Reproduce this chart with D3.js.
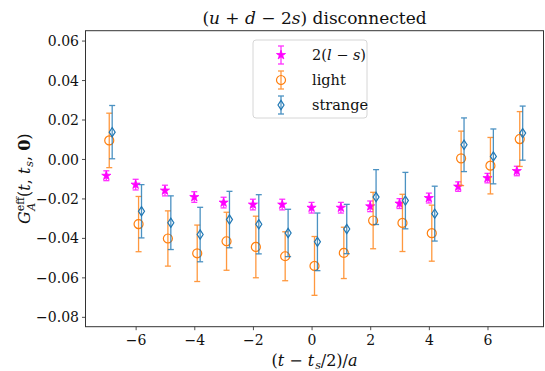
<!DOCTYPE html>
<html>
<head>
<meta charset="utf-8">
<script src="https://cdn.jsdelivr.net/npm/d3@7"></script>
<style>
  body { margin: 0; background: #fff; }
</style>
</head>
<body>
<div id="chart"></div>
<script>
// time slices (t - ts/2)/a
const tVals = [-7, -6, -5, -4, -3, -2, -1, 0, 1, 2, 3, 4, 5, 6, 7];

// 2(l - s)
const diffVal = [-0.0085, -0.013, -0.016, -0.0193, -0.0221, -0.0231, -0.0231, -0.0247, -0.0247, -0.024, -0.0226, -0.0198, -0.014, -0.0097, -0.0061];
const diffErr = [0.0025, 0.0027, 0.0027, 0.0027, 0.0027, 0.0027, 0.0027, 0.0027, 0.0027, 0.0027, 0.0025, 0.0025, 0.0024, 0.0024, 0.0024];

// light
const lightVal = [0.0094, -0.033, -0.0403, -0.0478, -0.0417, -0.0446, -0.0493, -0.0542, -0.0476, -0.0312, -0.0324, -0.0376, 0.0003, -0.0034, 0.0101];
const lightErr = [0.0138, 0.014, 0.014, 0.0143, 0.0147, 0.0156, 0.0124, 0.0149, 0.013, 0.0143, 0.0145, 0.0142, 0.0138, 0.0143, 0.0139];

// strange
const strangeVal = [0.0136, -0.0265, -0.0323, -0.0383, -0.0307, -0.0331, -0.0375, -0.042, -0.0355, -0.0193, -0.0211, -0.0277, 0.0072, 0.0013, 0.0131];
const strangeErr = [0.0135, 0.0135, 0.0136, 0.0138, 0.0143, 0.015, 0.012, 0.0146, 0.0125, 0.0139, 0.0143, 0.0139, 0.0136, 0.0139, 0.0137];

const xTicks = [-6, -4, -2, 0, 2, 4, 6];
const yTicks = [-0.08, -0.06, -0.04, -0.02, 0.00, 0.02, 0.04, 0.06];

const series = [
    {name: "diff", vals: diffVal, errs: diffErr, shift: 0.0, color: "#ff00ff", marker: "star"},
    {name: "light", vals: lightVal, errs: lightErr, shift: 0.1, color: "#ff7f0e", marker: "circle"},
    {name: "strange", vals: strangeVal, errs: strangeErr, shift: 0.2, color: "#1f77b4", marker: "diamond"}
];

const FONT = "'DejaVu Serif', serif";
const W = 545, H = 371;
const margin = {top: 30.7, right: 1.5, bottom: 44.3, left: 85.5};

const svg = d3.select("#chart").append("svg")
    .attr("width", W)
    .attr("height", H);

const x = d3.scaleLinear()
    .domain([-7.71, 7.91])
    .range([margin.left, W - margin.right]);

const y = d3.scaleLinear()
    .domain([-0.085, 0.065])
    .range([H - margin.bottom, margin.top]);

const fmtMinus = s => s.replace("-", "\u2212");

// axes
const xAxis = d3.axisBottom(x).tickValues(xTicks).tickSize(3.5).tickPadding(3)
    .tickFormat(d => fmtMinus(d3.format("d")(d)));
const yAxis = d3.axisLeft(y).tickValues(yTicks).tickSize(3.5).tickPadding(3)
    .tickFormat(d => fmtMinus(d3.format(".2f")(d)));

const gx = svg.append("g")
    .attr("transform", "translate(0," + (H - margin.bottom) + ")")
    .call(xAxis);
const gy = svg.append("g")
    .attr("transform", "translate(" + margin.left + ",0)")
    .call(yAxis);

[gx, gy].forEach(g => {
    g.attr("font-family", null).attr("font-size", null);
    g.select(".domain").remove();
    g.selectAll(".tick line").attr("stroke", "#222").attr("stroke-width", 0.8);
    g.selectAll(".tick text")
        .style("font-family", FONT)
        .style("font-size", "14px")
        .attr("fill", "#111");
});
gx.selectAll(".tick text").attr("dy", "0.85em");
gy.selectAll(".tick text").attr("dy", "0.36em");

// error bars and markers
function markerPath(type) {
    if (type === "diamond") {
        return "M0,-4.6L3,0L0,4.6L-3,0Z";
    }
    if (type === "star") {
        return d3.symbol().type(d3.symbolStar).size(26)();
    }
    return d3.symbol().type(d3.symbolCircle).size(64)();
}

series.forEach(s => {
    const g = svg.append("g").attr("class", "series-" + s.name);
    const pts = tVals.map((t, i) => ({x: t + s.shift, v: s.vals[i], e: s.errs[i]}));

    const eb = g.selectAll(".eb").data(pts).enter().append("g")
        .attr("class", "eb")
        .attr("stroke", s.color)
        .attr("stroke-width", 1.3)
        .attr("opacity", 0.8);
    eb.append("line")
        .attr("x1", d => x(d.x)).attr("x2", d => x(d.x))
        .attr("y1", d => y(d.v - d.e)).attr("y2", d => y(d.v + d.e));
    eb.append("line")
        .attr("x1", d => x(d.x) - 3).attr("x2", d => x(d.x) + 3)
        .attr("y1", d => y(d.v + d.e)).attr("y2", d => y(d.v + d.e));
    eb.append("line")
        .attr("x1", d => x(d.x) - 3).attr("x2", d => x(d.x) + 3)
        .attr("y1", d => y(d.v - d.e)).attr("y2", d => y(d.v - d.e));

    g.selectAll(".mk").data(pts).enter().append("path")
        .attr("class", "mk")
        .attr("d", markerPath(s.marker))
        .attr("transform", d => "translate(" + x(d.x) + "," + y(d.v) + ")")
        .attr("fill", s.marker === "star" ? s.color : "none")
        .attr("stroke", s.color)
        .attr("stroke-width", s.marker === "star" ? 0.8 : 1.2);
});

// frame
svg.append("rect")
    .attr("x", margin.left).attr("y", margin.top)
    .attr("width", W - margin.left - margin.right)
    .attr("height", H - margin.top - margin.bottom)
    .attr("fill", "none")
    .attr("stroke", "#333")
    .attr("stroke-width", 1);

// legend
const leg = svg.append("g").attr("transform", "translate(253,40)");
leg.append("rect")
    .attr("width", 114).attr("height", 78)
    .attr("rx", 3)
    .attr("fill", "#fff").attr("fill-opacity", 0.8)
    .attr("stroke", "#d6d6d6").attr("stroke-width", 1);

const legendLabels = [
    [{t: "2(", i: false}, {t: "l", i: true}, {t: " \u2212 ", i: false}, {t: "s", i: true}, {t: ")", i: false}],
    [{t: "light", i: false}],
    [{t: "strange", i: false}]
];

series.forEach((s, k) => {
    const yy = 15 + k * 25;
    const item = leg.append("g").attr("transform", "translate(28," + yy + ")");
    const ib = item.append("g").attr("stroke", s.color).attr("stroke-width", 1.3).attr("opacity", 0.8);
    ib.append("line").attr("x1", 0).attr("x2", 0).attr("y1", -9).attr("y2", 9);
    ib.append("line").attr("x1", -3).attr("x2", 3).attr("y1", -9).attr("y2", -9);
    ib.append("line").attr("x1", -3).attr("x2", 3).attr("y1", 9).attr("y2", 9);
    item.append("path")
        .attr("d", markerPath(s.marker))
        .attr("fill", s.marker === "star" ? s.color : "none")
        .attr("stroke", s.color)
        .attr("stroke-width", s.marker === "star" ? 0.8 : 1.2);
    const txt = leg.append("text")
        .attr("x", 59).attr("y", yy + 5)
        .style("font-family", FONT)
        .style("font-size", "14.5px")
        .attr("fill", "#111");
    legendLabels[k].forEach(p => {
        txt.append("tspan").text(p.t).style("font-style", p.i ? "italic" : "normal");
    });
});

// title
const title = svg.append("text")
    .attr("x", (margin.left + W - margin.right) / 2)
    .attr("y", 24)
    .attr("text-anchor", "middle")
    .style("font-family", FONT)
    .style("font-size", "17px")
    .attr("fill", "#111");
[["(", false], ["u", true], [" + ", false], ["d", true], [" \u2212 2", false], ["s", true], [") disconnected", false]]
    .forEach(p => title.append("tspan").text(p[0]).style("font-style", p[1] ? "italic" : "normal"));

// x label
const xl = svg.append("text")
    .attr("x", (margin.left + W - margin.right) / 2)
    .attr("y", 366)
    .attr("text-anchor", "middle")
    .style("font-family", FONT)
    .style("font-size", "16px")
    .attr("fill", "#111");
xl.append("tspan").text("(");
xl.append("tspan").text("t").style("font-style", "italic");
xl.append("tspan").text(" \u2212 ");
xl.append("tspan").text("t").style("font-style", "italic");
xl.append("tspan").text("s").style("font-style", "italic").style("font-size", "11px").attr("dx", 1).attr("dy", 3);
xl.append("tspan").text("/2)/").attr("dy", -3);
xl.append("tspan").text("a").style("font-style", "italic");

// y label
const yl = svg.append("text")
    .attr("transform", "translate(30," + ((margin.top + H - margin.bottom) / 2) + ") rotate(-90)")
    .attr("text-anchor", "middle")
    .style("font-family", FONT)
    .style("font-size", "16px")
    .attr("fill", "#111");
yl.append("tspan").text("G").style("font-style", "italic");
yl.append("tspan").text("eff").style("font-size", "11px").attr("dy", -6);
yl.append("tspan").text("A").style("font-style", "italic").style("font-size", "11px").attr("dx", -14).attr("dy", 11);
yl.append("tspan").text("(").attr("dx", 6).attr("dy", -5);
yl.append("tspan").text("t").style("font-style", "italic");
yl.append("tspan").text(", ");
yl.append("tspan").text("t").style("font-style", "italic");
yl.append("tspan").text("s").style("font-style", "italic").style("font-size", "11px").attr("dx", 1).attr("dy", 3);
yl.append("tspan").text(", ").attr("dy", -3);
yl.append("tspan").text("0").style("font-weight", "bold");
yl.append("tspan").text(")");
</script>
</body>
</html>
